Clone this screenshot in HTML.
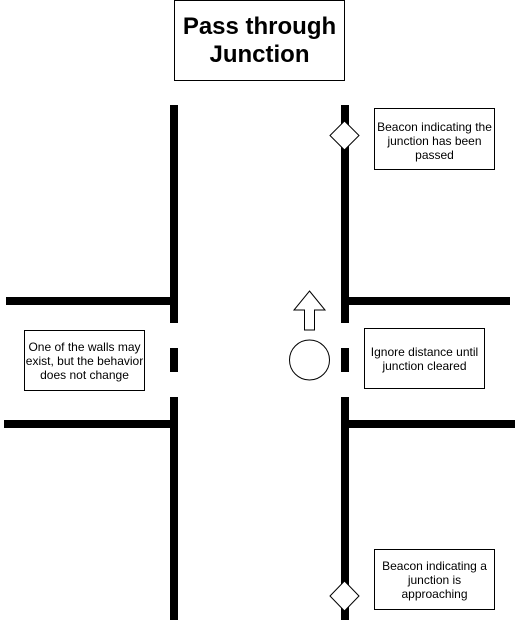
<!DOCTYPE html>
<html><head><meta charset="utf-8"><style>
html,body{margin:0;padding:0;background:#fff;}
svg{display:block;}
text{font-family:"Liberation Sans",sans-serif;}
</style></head><body>
<svg width="516" height="627" viewBox="0 0 516 627" xmlns="http://www.w3.org/2000/svg">
<rect x="0" y="0" width="516" height="627" fill="#fff"/>
<rect x="174.5" y="0.5" width="170" height="80" fill="#fff" stroke="#000"/>
<text x="259.5" y="34" font-size="24" font-weight="bold" text-anchor="middle">Pass through</text>
<text x="259.5" y="62" font-size="24" font-weight="bold" text-anchor="middle">Junction</text>
<g fill="#000">
<rect x="170" y="105" width="8" height="218"/>
<rect x="170" y="348" width="8" height="24"/>
<rect x="170" y="397" width="8" height="223"/>
<rect x="6" y="297" width="172" height="8"/>
<rect x="4" y="420" width="174" height="8"/>
<rect x="341" y="105" width="8" height="218"/>
<rect x="341" y="348" width="8" height="24"/>
<rect x="341" y="397" width="8" height="223"/>
<rect x="341" y="297" width="169" height="8"/>
<rect x="341" y="420" width="174" height="8"/>
</g>
<polygon points="344.5,121 359,135.5 344.5,150 330,135.5" fill="#fff" stroke="#000"/>
<polygon points="344.5,581 359,596 344.5,611 330,596" fill="#fff" stroke="#000"/>
<polygon points="309.5,291 325,310 314.5,310 314.5,330 304.5,330 304.5,310 294,310" fill="#fff" stroke="#000"/>
<circle cx="309.5" cy="360" r="20" fill="#fff" stroke="#000"/>
<rect x="374.5" y="108.5" width="120" height="61" fill="#fff" stroke="#000"/>
<text font-size="12" text-anchor="middle"><tspan x="434.5" y="131">Beacon indicating the</tspan><tspan x="434.5" y="145">junction has been</tspan><tspan x="434.5" y="159">passed</tspan></text>
<rect x="374.5" y="549.5" width="120" height="60" fill="#fff" stroke="#000"/>
<text font-size="12" text-anchor="middle"><tspan x="434.5" y="570">Beacon indicating a</tspan><tspan x="434.5" y="584">junction is</tspan><tspan x="434.5" y="598">approaching</tspan></text>
<rect x="24.5" y="330.5" width="120" height="60" fill="#fff" stroke="#000"/>
<text font-size="12" text-anchor="middle"><tspan x="84.5" y="351">One of the walls may</tspan><tspan x="84.5" y="365">exist, but the behavior</tspan><tspan x="84.5" y="379">does not change</tspan></text>
<rect x="364.5" y="328.5" width="120" height="60" fill="#fff" stroke="#000"/>
<text font-size="12" text-anchor="middle"><tspan x="424.5" y="356">Ignore distance until</tspan><tspan x="424.5" y="370">junction cleared</tspan></text>
</svg>
</body></html>
